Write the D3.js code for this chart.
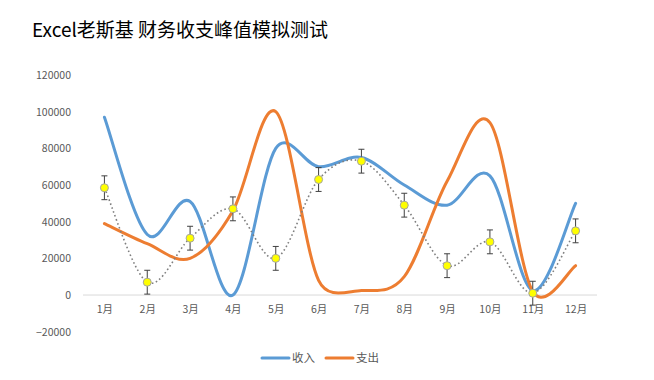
<!DOCTYPE html>
<html>
<head>
<meta charset="utf-8">
<script src="https://cdn.jsdelivr.net/npm/d3@7"></script>
<style>
    body { margin: 0; background: #fff; }
    svg text { font-family: "Noto Sans CJK SC", "Noto Sans", sans-serif; }
</style>
</head>
<body>
<div id="chart"></div>
<script>
// chart data
var months = ["1月", "2月", "3月", "4月", "5月", "6月", "7月", "8月", "9月", "10月", "11月", "12月"];
var income = [97000, 33000, 51000, 0, 80000, 70000, 75000, 60000, 49000, 65000, 2500, 50000];
var expense = [39000, 28000, 20000, 46000, 100000, 8000, 2500, 10000, 62000, 94000, 2000, 16000];
var peak = [58500, 7000, 31000, 47000, 20000, 63000, 73000, 49000, 16000, 29000, 1000, 35000];
var peakError = 6500;
var yTicks = [-20000, 0, 20000, 40000, 60000, 80000, 100000, 120000];
var seriesNames = ["收入", "支出"];

var width = 654, height = 380;

var svg = d3.select("#chart")
    .append("svg")
    .attr("width", width)
    .attr("height", height);

// title
svg.append("text")
    .attr("x", 32)
    .attr("y", 37)
    .attr("font-size", "19px")
    .attr("fill", "#000")
    .text("Excel老斯基 财务收支峰值模拟测试");

var x = d3.scalePoint()
    .domain(months)
    .range([83, 597])
    .padding(0.5);

var y = d3.scaleLinear()
    .domain([-20000, 120000])
    .range([331.7, 75]);

// Y axis labels (no line, no ticks)
svg.append("g")
    .attr("transform", "translate(71,0)")
    .call(d3.axisLeft(y).tickValues(yTicks).tickFormat(d3.format("d")).tickSize(0).tickPadding(0))
    .call(function (g) { g.select(".domain").remove(); })
    .selectAll("text")
    .attr("font-size", "10.5px")
    .attr("font-family", "'Noto Sans CJK SC', sans-serif")
    .attr("fill", "#595959");

// zero line
svg.append("line")
    .attr("x1", 83)
    .attr("x2", 597)
    .attr("y1", y(0))
    .attr("y2", y(0))
    .attr("stroke", "#d9d9d9")
    .attr("stroke-width", 1);

// X axis labels
svg.append("g")
    .attr("transform", "translate(0," + y(0) + ")")
    .call(d3.axisBottom(x).tickSize(0).tickPadding(11))
    .call(function (g) { g.select(".domain").remove(); })
    .selectAll("text")
    .attr("font-size", "10.5px")
    .attr("font-family", "'Noto Sans CJK SC', sans-serif")
    .attr("fill", "#595959");

// Excel-like smoothing: cardinal arms of (next - prev)/6, capped at half the segment
function smoothPath(values) {
    var pts = values.map(function (d, i) { return [x(months[i]), y(d)]; });
    var p = d3.path();
    p.moveTo(pts[0][0], pts[0][1]);
    for (var i = 0; i < pts.length - 1; i++) {
        var p0 = pts[Math.max(i - 1, 0)], p1 = pts[i], p2 = pts[i + 1],
            p3 = pts[Math.min(i + 2, pts.length - 1)];
        var seg = Math.hypot(p2[0] - p1[0], p2[1] - p1[1]);
        var a = [(p2[0] - p0[0]) / 6, (p2[1] - p0[1]) / 6];
        var b = [(p3[0] - p1[0]) / 6, (p3[1] - p1[1]) / 6];
        var la = Math.hypot(a[0], a[1]), lb = Math.hypot(b[0], b[1]);
        if (la > seg / 2) { a = [a[0] * seg / 2 / la, a[1] * seg / 2 / la]; }
        if (lb > seg / 2) { b = [b[0] * seg / 2 / lb, b[1] * seg / 2 / lb]; }
        p.bezierCurveTo(p1[0] + a[0], p1[1] + a[1], p2[0] - b[0], p2[1] - b[1], p2[0], p2[1]);
    }
    return p.toString();
}

// income / expense lines
svg.append("path")
    .attr("d", smoothPath(income))
    .attr("fill", "none")
    .attr("stroke", "#5b9bd5")
    .attr("stroke-width", 3)
    .attr("stroke-linecap", "round");

svg.append("path")
    .attr("d", smoothPath(expense))
    .attr("fill", "none")
    .attr("stroke", "#ed7d31")
    .attr("stroke-width", 3)
    .attr("stroke-linecap", "round");

// dotted peak series
svg.append("path")
    .attr("d", smoothPath(peak))
    .attr("fill", "none")
    .attr("stroke", "#7f7f7f")
    .attr("stroke-width", 1.6)
    .attr("stroke-dasharray", "1.6,2.6");

// error bars
var bars = svg.append("g")
    .attr("stroke", "#404040")
    .attr("stroke-width", 1);

peak.forEach(function (v, i) {
    var cx = x(months[i]);
    var top = y(v + peakError), bottom = y(v - peakError);
    bars.append("line").attr("x1", cx).attr("x2", cx).attr("y1", top).attr("y2", bottom);
    bars.append("line").attr("x1", cx - 3).attr("x2", cx + 3).attr("y1", top).attr("y2", top);
    bars.append("line").attr("x1", cx - 3).attr("x2", cx + 3).attr("y1", bottom).attr("y2", bottom);
});

// yellow markers
svg.append("g")
    .selectAll("circle")
    .data(peak)
    .enter()
    .append("circle")
    .attr("cx", function (d, i) { return x(months[i]); })
    .attr("cy", function (d) { return y(d); })
    .attr("r", 4)
    .attr("fill", "#ffff00")
    .attr("stroke", "#a5a5a5")
    .attr("stroke-width", 1);

// legend
var legendColors = ["#5b9bd5", "#ed7d31"];
var legendX = [262, 326];
var legend = svg.append("g");
seriesNames.forEach(function (name, i) {
    legend.append("line")
        .attr("x1", legendX[i])
        .attr("x2", legendX[i] + 27)
        .attr("y1", 358)
        .attr("y2", 358)
        .attr("stroke", legendColors[i])
        .attr("stroke-width", 3)
        .attr("stroke-linecap", "round");
    legend.append("text")
        .attr("x", legendX[i] + 30)
        .attr("y", 362)
        .attr("font-size", "11.5px")
        .attr("fill", "#595959")
        .text(name);
});
</script>
</body>
</html>
